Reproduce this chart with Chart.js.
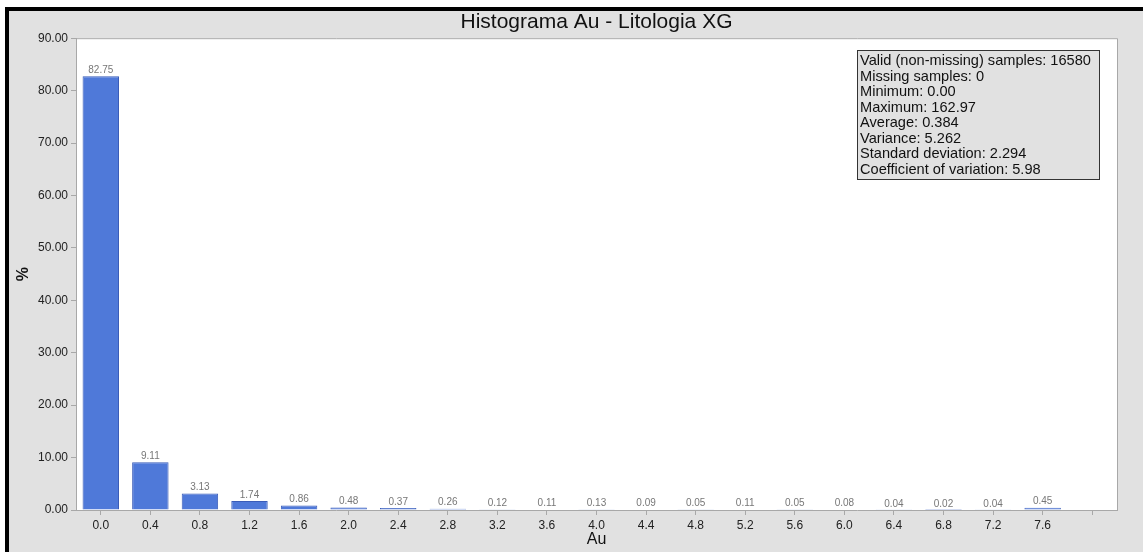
<!DOCTYPE html>
<html>
<head>
<meta charset="utf-8">
<script src="https://cdn.jsdelivr.net/npm/chart.js@4.4.1/dist/chart.umd.min.js"></script>
<style>
html,body{margin:0;padding:0;background:#fff;}
#wrap{width:1143px;height:552px;position:relative;}
</style>
</head>
<body>
<div id="wrap"><canvas id="c"></canvas></div>
<script>
const categories = ["0.0","0.4","0.8","1.2","1.6","2.0","2.4","2.8","3.2","3.6","4.0","4.4","4.8","5.2","5.6","6.0","6.4","6.8","7.2","7.6",""];
const percentValues = [82.75,9.11,3.13,1.74,0.86,0.48,0.37,0.26,0.12,0.11,0.13,0.09,0.05,0.11,0.05,0.08,0.04,0.02,0.04,0.45,null];
const yTickMin = 0;
const yTickMax = 90;
const yTickStep = 10;
const statsLines = [
  "Valid (non-missing) samples: 16580",
  "Missing samples: 0",
  "Minimum: 0.00",
  "Maximum: 162.97",
  "Average: 0.384",
  "Variance: 5.262",
  "Standard deviation: 2.294",
  "Coefficient of variation: 5.98"
];
const FONT = "'Liberation Sans', Arial, sans-serif";

const framePlugin = {
  id: 'frame',
  beforeDraw(chart) {
    const ctx = chart.ctx, w = chart.width, h = chart.height, a = chart.chartArea;
    ctx.save();
    ctx.fillStyle = '#ffffff';
    ctx.fillRect(0, 0, w, h);
    ctx.fillStyle = '#e1e1e1';
    ctx.fillRect(5, 7, w - 5, h - 7);
    ctx.fillStyle = '#000000';
    ctx.fillRect(5, 7, w - 5, 4);
    ctx.fillRect(5, 7, 4, h - 7);
    ctx.fillStyle = '#ffffff';
    ctx.fillRect(a.left, a.top, a.right - a.left, a.bottom - a.top);
    ctx.restore();
  },
  afterDatasetsDraw(chart) {
    const ctx = chart.ctx, a = chart.chartArea;
    ctx.save();
    ctx.strokeStyle = '#a8a8a8';
    ctx.lineWidth = 1;
    ctx.beginPath();
    ctx.moveTo(a.left + 0.5, a.top + 0.5);
    ctx.lineTo(a.right + 0.5, a.top + 0.5);
    ctx.lineTo(a.right + 0.5, a.bottom);
    ctx.stroke();
    // value labels
    const meta = chart.getDatasetMeta(0);
    ctx.fillStyle = '#777777';
    ctx.font = '10px ' + FONT;
    ctx.textAlign = 'center';
    ctx.textBaseline = 'bottom';
    meta.data.forEach((bar, i) => {
      const v = percentValues[i];
      if (v === null || v === undefined) return;
      ctx.fillText(v.toFixed(2), bar.x, bar.y - 1);
    });
    // stats box
    const bx = 857.5, by = 50.5, bw = 242, bh = 129;
    ctx.fillStyle = '#e1e1e1';
    ctx.fillRect(bx, by, bw, bh);
    ctx.strokeStyle = '#333333';
    ctx.strokeRect(bx, by, bw, bh);
    ctx.fillStyle = '#111111';
    ctx.font = '14.6px ' + FONT;
    ctx.textAlign = 'left';
    ctx.textBaseline = 'middle';
    statsLines.forEach((t, i) => {
      ctx.fillText(t, 860, 61 + i * 15.5);
    });
    ctx.restore();
  }
};

new Chart(document.getElementById('c'), {
  type: 'bar',
  data: {
    labels: categories,
    datasets: [{
      data: percentValues,
      backgroundColor: '#4f79d9',
      borderColor: '#3a5cb8',
      borderWidth: 1,
      borderSkipped: 'bottom',
      categoryPercentage: 1.0,
      barPercentage: 0.735
    }]
  },
  options: {
    responsive: true,
    maintainAspectRatio: false,
    animation: false,
    devicePixelRatio: 1,
    layout: { padding: { left: 10, right: 26, top: 0, bottom: 0 } },
    plugins: {
      legend: { display: false },
      tooltip: { enabled: false },
      title: {
        display: true,
        fullSize: false,
        text: 'Histograma Au - Litologia XG',
        color: '#111111',
        font: { family: FONT, size: 21, weight: 'normal', lineHeight: 1.2 },
        padding: { top: 10, bottom: 3 }
      }
    },
    scales: {
      x: {
        offset: true,
        grid: { display: true, drawOnChartArea: false, offset: false, tickLength: 5, color: '#a8a8a8' },
        border: { display: true, color: '#a8a8a8' },
        ticks: { color: '#222222', font: { family: FONT, size: 12 }, padding: 3, maxRotation: 0, autoSkip: false },
        title: { display: true, text: 'Au', color: '#111111', font: { family: FONT, size: 16 }, padding: { top: 0, bottom: 3 } },
        afterFit(scale) { scale.height = 42; }
      },
      y: {
        min: yTickMin,
        max: yTickMax,
        grid: { display: true, drawOnChartArea: false, tickLength: 5, color: '#a8a8a8' },
        border: { display: true, color: '#a8a8a8' },
        ticks: {
          stepSize: yTickStep,
          color: '#222222',
          font: { family: FONT, size: 12 },
          padding: 3,
          callback: (v) => Number(v).toFixed(2)
        },
        title: { display: true, text: '%', color: '#111111', font: { family: FONT, size: 16, weight: 'bold' }, padding: { top: 4, bottom: 0 } },
        afterFit(scale) { scale.width = 66; }
      }
    }
  },
  plugins: [framePlugin]
});
</script>
</body>
</html>
